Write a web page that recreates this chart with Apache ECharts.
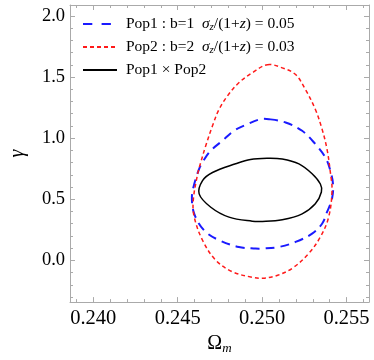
<!DOCTYPE html>
<html><head><meta charset="utf-8">
<script src="https://cdn.jsdelivr.net/npm/echarts@6/dist/echarts.min.js"></script>
<style>html,body{margin:0;padding:0;background:#fff}#c{width:374px;height:360px}</style>
</head><body><div id="c"></div>
<script>
// Tick values
const xMajor = [0.240, 0.245, 0.250, 0.255];
const xMinor = [0.239, 0.241, 0.242, 0.243, 0.244, 0.246, 0.247, 0.248, 0.249, 0.251, 0.252, 0.253, 0.254, 0.256];
const yMajor = [0.0, 0.5, 1.0, 1.5, 2.0];
const yMinor = [-0.3, -0.2, -0.1, 0.1, 0.2, 0.3, 0.4, 0.6, 0.7, 0.8, 0.9, 1.1, 1.2, 1.3, 1.4, 1.6, 1.7, 1.8, 1.9];

// Series names
const seriesNames = ['Pop1', 'Pop2', 'Pop1xPop2'];

// Closed contours [Omega_m, gamma]
const pop1 = [[0.25041,1.155],[0.25139,1.128],[0.25237,1.060],[0.25315,0.952],[0.25374,0.844],[0.25404,0.735],[0.25420,0.620],[0.25414,0.505],[0.25384,0.394],[0.25355,0.300],[0.25296,0.219],[0.25198,0.151],[0.25100,0.110],[0.25002,0.097],[0.24961,0.097],[0.24862,0.110],[0.24745,0.165],[0.24656,0.246],[0.24598,0.381],[0.24584,0.516],[0.24598,0.625],[0.24627,0.749],[0.24647,0.804],[0.24696,0.898],[0.24765,0.979],[0.24833,1.060],[0.24912,1.114],[0.24990,1.155]];
const pop2 = [[0.25031,1.601],[0.25119,1.575],[0.25198,1.520],[0.25256,1.399],[0.25315,1.236],[0.25355,1.074],[0.25384,0.912],[0.25404,0.722],[0.25414,0.571],[0.25394,0.354],[0.25345,0.192],[0.25276,0.057],[0.25178,-0.065],[0.25080,-0.127],[0.25002,-0.146],[0.24941,-0.138],[0.24824,-0.093],[0.24725,0.002],[0.24647,0.165],[0.24598,0.354],[0.24592,0.489],[0.24618,0.706],[0.24637,0.804],[0.24666,0.938],[0.24706,1.101],[0.24745,1.236],[0.24794,1.344],[0.24862,1.453],[0.24941,1.534]];
const pop12 = [[0.25029,0.836],[0.25119,0.830],[0.25218,0.790],[0.25296,0.709],[0.25345,0.625],[0.25351,0.560],[0.25315,0.463],[0.25237,0.381],[0.25119,0.333],[0.25002,0.319],[0.24941,0.321],[0.24804,0.354],[0.24696,0.435],[0.24627,0.544],[0.24647,0.652],[0.24706,0.719],[0.24843,0.790],[0.24931,0.826]];

const XMIN = 0.23862, XMAX = 0.25633, YMIN = -0.341, YMAX = 2.089;
const SERIF = 'Liberation Serif';
const FRAME = '#aaaaaa';
const BLUE = '#1a1aff', RED = '#ff1a1a', BLACK = '#000000';

function xAx(pos, vals, len, labels, line, extra) {
  return Object.assign({
    type: 'value', position: pos, min: XMIN, max: XMAX,
    axisLine: {show: line, onZero: false, lineStyle: {color: FRAME, width: 1}},
    axisTick: {show: true, inside: true, length: len, customValues: vals, lineStyle: {color: FRAME, width: 1}},
    axisLabel: labels ? {show: true, customValues: xMajor, formatter: v => v.toFixed(3), fontFamily: SERIF, fontSize: 20.5, color: '#000', margin: 6} : {show: false},
    splitLine: {show: false}
  }, extra || {});
}
function yAx(pos, vals, len, labels, line, extra) {
  return Object.assign({
    type: 'value', position: pos, min: YMIN, max: YMAX,
    axisLine: {show: line, onZero: false, lineStyle: {color: FRAME, width: 1}},
    axisTick: {show: true, inside: true, length: len, customValues: vals, lineStyle: {color: FRAME, width: 1}},
    axisLabel: labels ? {show: true, customValues: yMajor, formatter: v => v.toFixed(1), fontFamily: SERIF, fontSize: 18.5, color: '#000', margin: 5} : {show: false},
    splitLine: {show: false}
  }, extra || {});
}

const legendText = {
  'Pop1': 'Pop1 : b=1  {i|σ}{s|z}/(1+{i|z}) = 0.05',
  'Pop2': 'Pop2 : b=2  {i|σ}{s|z}/(1+{i|z}) = 0.03',
  'Pop1xPop2': 'Pop1 × Pop2'
};

function contourSeries(name, pts, color, width, dash) {
  return {
    name: name, type: 'custom', coordinateSystem: 'cartesian2d', xAxisIndex: 0, yAxisIndex: 0,
    data: pts, encode: {x: 0, y: 1}, clip: true,
    renderItem: function (params, api) {
      if (params.dataIndex !== 0) return null;
      const px = pts.map(p => api.coord(p));
      return {
        type: 'polygon',
        shape: {points: px, smooth: 0.36},
        style: {fill: 'none', stroke: color, lineWidth: width, lineDash: dash}
      };
    }
  };
}
function legendSeries(name, color, width, dash) {
  return {
    name: name, type: 'line', data: [], symbol: 'circle', showSymbol: false,
    lineStyle: {color: color, width: width, type: dash}, itemStyle: {color: color, opacity: 0}
  };
}

const chart = echarts.init(document.getElementById('c'), null, {renderer: 'canvas'});
chart.setOption({
  animation: false,
  backgroundColor: '#fff',
  grid: {left: 68, right: 5, top: 5, bottom: 56, containLabel: false},
  xAxis: [
    xAx('bottom', xMajor, 5, true, true, {
      name: 'Ω{sub|m}', nameLocation: 'middle', nameGap: 30,
      nameTextStyle: {fontFamily: SERIF, fontSize: 20, color: '#000',
        rich: {sub: {fontFamily: SERIF, fontSize: 13, fontStyle: 'italic', color: '#000', padding: [9, 0, 0, 0]}}}
    }),
    xAx('bottom', xMinor, 3, false, false),
    xAx('top', xMajor, 5, false, true),
    xAx('top', xMinor, 3, false, false)
  ],
  yAxis: [
    yAx('left', yMajor, 5, true, true, {
      name: 'γ', nameLocation: 'middle', nameGap: 42, nameRotate: 90,
      nameTextStyle: {fontFamily: SERIF, fontSize: 20, fontStyle: 'italic', color: '#000'}
    }),
    yAx('left', yMinor, 3, false, false),
    yAx('right', yMajor, 5, false, true),
    yAx('right', yMinor, 3, false, false)
  ],
  legend: {
    orient: 'vertical', left: 82, top: 16, padding: 0, itemWidth: 34, itemHeight: 14, itemGap: 6.5,
    data: seriesNames,
    itemStyle: {opacity: 0},
    formatter: n => legendText[n],
    textStyle: {fontFamily: SERIF, fontSize: 15.5, color: '#000', padding: [0, 0, 0, 4],
      rich: {
        i: {fontFamily: SERIF, fontSize: 15.5, fontStyle: 'italic', color: '#000'},
        s: {fontFamily: SERIF, fontSize: 11, fontStyle: 'italic', color: '#000', padding: [6, 0, 0, 0]}
      }}
  },
  series: [
    legendSeries(seriesNames[0], BLUE, 2, [9.3, 9.3]),
    legendSeries(seriesNames[1], RED, 1.5, [4, 3]),
    legendSeries(seriesNames[2], BLACK, 1.5, 'solid'),
    contourSeries('c1', pop1, BLUE, 2, [9, 6]),
    contourSeries('c2', pop2, RED, 1.5, [4, 3]),
    contourSeries('c3', pop12, BLACK, 1.5, null)
  ]
});
</script>
</body></html>
